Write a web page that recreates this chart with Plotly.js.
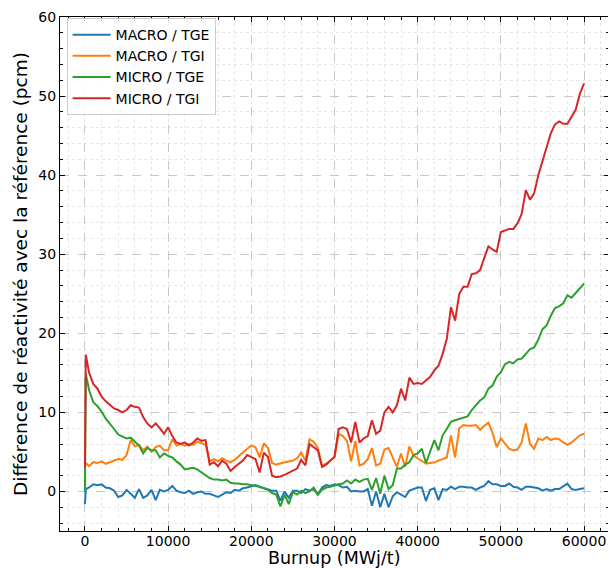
<!DOCTYPE html>
<html>
<head>
<meta charset="utf-8">
<script src="https://cdn.plot.ly/plotly-3.0.1.min.js"></script>
<style>
html, body { margin: 0; padding: 0; overflow: hidden; background: #fff; }
#chart { width: 610px; height: 569px; }
</style>
</head>
<body>
<div id="chart"></div>
<script>
const burnup = [0, 100,
  500, 1000, 1500, 2000, 2500, 3000, 3500, 4000, 4500, 5000,
  5500, 6000, 6500, 7000, 7500, 8000, 8500, 9000, 9500, 10000,
  10500, 11000, 11500, 12000, 12500, 13000, 13500, 14000, 14500, 15000,
  15500, 16000, 16500, 17000, 17500, 18000, 18500, 19000, 19500, 20000,
  20500, 21000, 21500, 22000, 22500, 23000, 23500, 24000, 24500, 25000,
  25500, 26000, 26500, 27000, 27500, 28000, 28500, 29000, 29500, 30000,
  30500, 31000, 31500, 32000, 32500, 33000, 33500, 34000, 34500, 35000,
  35500, 36000, 36500, 37000, 37500, 38000, 38500, 39000, 39500, 40000,
  40500, 41000, 41500, 42000, 42500, 43000, 43500, 44000, 44500, 45000,
  45500, 46000, 46500, 47000, 47500, 48000, 48500, 49000, 49500, 50000,
  50500, 51000, 51500, 52000, 52500, 53000, 53500, 54000, 54500, 55000,
  55500, 56000, 56500, 57000, 57500, 58000, 58500, 59000, 59500, 60000];

const macroTGE = [-1.6, 0.3,
  0.5, 0.9, 0.8, 0.9, 0.5, 0.4, 0.1, -0.7, -0.5, 0.2,
  -0.3, -0.8, 0.3, -0.8, -0.5, 0.2, -1.1, 0.2, 0.0, 0.2,
  0.7, 0.1, -0.1, -0.2, 0.1, -0.3, -0.1, 0.0, -0.3, -0.3,
  -0.5, -0.7, -0.4, -0.1, -0.2, 0.2, 0.1, 0.4, 0.5, 0.7,
  0.8, 0.6, 0.4, 0.3, 0.1, 0.1, -1.2, 0.0, -0.8, 0.1,
  0.1, -0.2, 0.3, 0.1, 0.3, -0.4, 0.5, 0.8, 0.7, 0.9,
  0.8, 0.5, 0.6, 0.0, 0.1, 0.0, 0.0, 0.3, -1.8, 0.0,
  -2.0, -0.3, -2.0, -0.6, -0.1, -0.4, -0.7, 0.1, 0.3, 0.5,
  0.5, -1.2, 0.2, 0.4, -1.1, 0.3, 0.2, 0.6, 0.3, 0.6,
  0.6, 0.5, 0.5, 0.2, 0.5, 0.7, 1.3, 0.9, 0.9, 0.7,
  0.7, 1.0, 0.6, 0.5, 0.2, 0.6, 0.6, 0.5, 0.4, 0.1,
  0.3, 0.1, 0.3, 0.3, 0.6, 1.0, 0.3, 0.2, 0.3, 0.4];

const macroTGI = [3.1, 3.6,
  3.2, 3.7, 3.6, 3.8, 3.5, 3.7, 3.9, 4.1, 4.0, 4.6,
  6.5, 5.7, 5.9, 5.2, 5.7, 5.0, 5.6, 5.8, 5.2, 5.2,
  6.6, 5.8, 6.0, 5.8, 6.0, 5.9, 6.3, 6.1, 5.9, 3.8,
  4.1, 3.8, 4.2, 3.9, 3.7, 4.0, 4.5, 5.0, 5.4, 5.8,
  5.6, 4.3, 6.1, 5.5, 3.6, 3.4, 3.6, 3.7, 3.8, 3.9,
  4.2, 4.9, 3.9, 6.6, 6.3, 5.5, 3.3, 3.5, 3.9, 4.3,
  7.3, 7.0, 6.4, 3.8, 6.4, 3.3, 3.5, 4.1, 5.5, 3.3,
  3.5, 5.3, 5.5, 4.4, 3.1, 4.8, 3.1, 5.7, 4.5, 4.2,
  3.8, 3.5, 3.6, 3.7, 3.9, 4.1, 4.3, 7.1, 4.3, 8.0,
  8.4, 8.3, 8.3, 8.4, 7.8, 8.3, 8.7, 7.4, 5.6, 6.7,
  6.0, 5.4, 5.2, 5.3, 6.2, 8.6, 6.0, 5.4, 6.7, 6.5,
  6.9, 6.5, 6.7, 6.6, 6.2, 5.9, 6.2, 6.7, 7.1, 7.3];

const microTGE = [0.0, 14.9,
  12.8, 11.3, 10.8, 10.1, 9.2, 8.6, 7.9, 7.2, 7.0, 6.7,
  6.8, 6.3, 5.8, 4.8, 5.5, 5.2, 5.2, 4.3, 4.8, 4.5,
  4.3, 3.8, 3.4, 2.8, 2.9, 3.0, 2.8, 2.4, 2.1, 1.7,
  1.5, 1.5, 1.4, 1.5, 1.1, 1.0, 1.0, 0.9, 0.9, 0.8,
  0.7, 0.6, 0.4, 0.2, -0.2, -0.4, -1.9, -0.4, -1.6, -0.1,
  -0.4, 0.1, -0.2, 0.0, 0.5, -0.4, 0.2, 0.5, 0.6, 0.8,
  0.9, 1.0, 1.4, 1.0, 1.5, 1.2, 1.5, 1.6, 0.2, 1.7,
  -0.3, 2.0, 0.3, 0.8, 2.9, 2.9, 3.4, 3.7, 4.6, 4.8,
  5.4, 3.6, 5.2, 6.5, 5.2, 7.1, 7.9, 8.8, 9.0, 9.2,
  9.4, 9.5, 10.3, 10.9, 11.5, 11.9, 13.0, 13.4, 14.5, 15.1,
  16.1, 16.4, 16.2, 16.7, 16.8, 17.4, 18.0, 18.2, 19.2, 20.5,
  21.0, 22.2, 23.2, 23.4, 23.8, 24.8, 24.5, 25.1, 25.7, 26.3];

const microTGI = [3.0, 17.3,
  15.0, 13.6, 13.0, 12.0, 11.4, 11.0, 10.5, 10.3, 10.0, 10.3,
  10.9, 10.7, 10.6, 9.4, 8.6, 8.1, 8.6, 8.0, 7.3, 8.1,
  7.0, 6.2, 6.0, 6.2, 5.8, 6.2, 6.7, 6.4, 6.5, 3.4,
  3.7, 3.2, 3.9, 3.5, 2.6, 3.1, 3.5, 3.9, 4.6, 4.4,
  4.1, 2.4, 4.9, 4.4, 2.0, 1.8, 1.9, 2.1, 2.4, 2.6,
  2.9, 4.0, 3.3, 6.0, 5.6, 5.2, 3.1, 3.4, 3.9, 4.4,
  7.9, 8.1, 7.9, 6.2, 8.8, 6.2, 6.7, 7.0, 9.0, 7.3,
  7.7, 10.0, 10.7, 10.0, 10.9, 13.0, 11.5, 14.4, 13.6, 13.7,
  13.6, 14.1, 14.5, 15.3, 15.9, 17.4, 19.3, 23.3, 21.6, 25.0,
  25.9, 25.9, 27.5, 27.6, 28.0, 29.5, 31.0, 30.6, 30.3, 32.8,
  33.0, 33.2, 33.2, 33.9, 35.1, 38.1, 36.9, 37.7, 40.0, 41.7,
  43.6, 45.3, 46.4, 46.8, 46.5, 46.5, 47.4, 48.3, 50.3, 51.6];

const seriesNames = ['MACRO / TGE', 'MACRO / TGI', 'MICRO / TGE', 'MICRO / TGI'];
const seriesColors = ['#1f77b4', '#ff7f0e', '#2ca02c', '#d62728'];
const seriesValues = [macroTGE, macroTGI, microTGE, microTGI];
const xTickVals = [0, 10000, 20000, 30000, 40000, 50000, 60000];
const xTickText = ['0', '10000', '20000', '30000', '40000', '50000', '60000'];
const xTitle = 'Burnup (MWj/t)';
const yTitle = 'Différence de réactivité avec la référence (pcm)';

const FONT = 'DejaVu Sans, sans-serif';

const traces = seriesValues.map((vals, i) => ({
  type: 'scatter',
  mode: 'lines',
  x: burnup,
  y: vals,
  name: seriesNames[i],
  legendgroup: 'g' + i,
  line: { color: seriesColors[i], width: 2 }
}));

const axisCommon = {
  showline: true,
  linecolor: '#000',
  linewidth: 1,
  mirror: 'allticks',
  ticks: 'inside',
  ticklen: 5,
  tickwidth: 1,
  tickcolor: '#000',
  showgrid: true,
  gridcolor: '#c8c8c8',
  griddash: 'dash',
  gridwidth: 1,
  zeroline: false,
  tickfont: { family: FONT, size: 14, color: '#000' }
};

const layout = {
  width: 610,
  height: 569,
  margin: { l: 60, r: 1, t: 17, b: 38 },
  paper_bgcolor: '#fff',
  plot_bgcolor: '#fff',
  showlegend: true,
  font: { family: FONT, size: 14, color: '#000' },
  xaxis: Object.assign({}, axisCommon, {
    range: [-3000, 63000],
    tickvals: xTickVals,
    ticktext: xTickText,
    ticklabelstandoff: -3,
    minor: { dtick: 2000, tick0: 0, ticks: 'inside', ticklen: 3, tickcolor: '#000',
             showgrid: true, gridcolor: '#e6e6e6', griddash: 'dot', gridwidth: 1 }
  }),
  yaxis: Object.assign({}, axisCommon, {
    range: [-5, 60],
    dtick: 10,
    tick0: 0,
    minor: { dtick: 2, tick0: 0, ticks: 'inside', ticklen: 3, tickcolor: '#000',
             showgrid: true, gridcolor: '#e6e6e6', griddash: 'dot', gridwidth: 1 },
    title: { text: yTitle, font: { family: FONT, size: 18.5, color: '#000' }, standoff: 5 }
  }),
  annotations: [{
    text: xTitle, xref: 'paper', yref: 'paper', x: 0.5, y: -0.0735,
    xanchor: 'center', yanchor: 'bottom', showarrow: false, borderpad: 0,
    font: { family: FONT, size: 17.5, color: '#000' }
  }],
  legend: {
    x: 0.012, y: 0.998, xanchor: 'left', yanchor: 'top',
    bgcolor: 'rgba(255,255,255,0.85)',
    bordercolor: '#cccccc',
    borderwidth: 1,
    traceorder: 'normal',
    tracegroupgap: 3,
    itemwidth: 38,
    font: { family: FONT, size: 14, color: '#000' }
  }
};

Plotly.newPlot('chart', traces, layout, { staticPlot: true, displayModeBar: false });
</script>
</body>
</html>
